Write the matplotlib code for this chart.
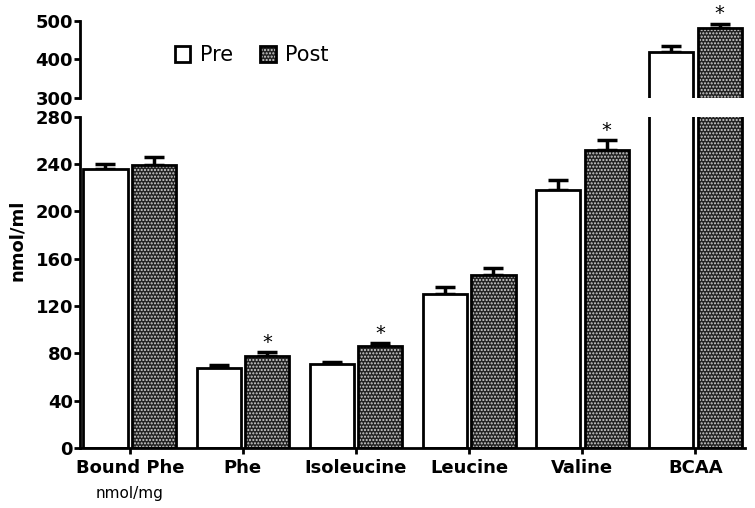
import numpy as np
import matplotlib
matplotlib.use('Agg')
import matplotlib.pyplot as plt
from matplotlib.patches import Patch

plt.rcParams['font.family'] = ['DejaVu Sans']
plt.rcParams['hatch.linewidth'] = 1.0

categories = ['Bound Phe', 'Phe', 'Isoleucine', 'Leucine', 'Valine', 'BCAA']
pre = [236, 68, 71, 130, 218, 420]
pre_err = [4, 2, 2, 6, 9, 15]
post = [239, 78, 86, 146, 252, 481]
post_err = [7, 3, 3, 6, 8, 12]
signif = [False, True, True, False, True, True]

x = np.arange(len(categories))
w = 0.39
off = 0.215
dark = '#222222'
dots = '#d2d2d2'

fig = plt.figure(figsize=(7.55, 5.08), dpi=100)
ax_top = fig.add_axes([0.106, 0.807, 0.881, 0.152])
ax = fig.add_axes([0.106, 0.118, 0.881, 0.652])


def draw(a):
    a.bar(x - off, pre, w, color='white', edgecolor='black', linewidth=2, zorder=2)
    a.bar(x + off, post, w, color=dark, edgecolor=dots, hatch='.....',
          linewidth=0, zorder=2)
    a.bar(x + off, post, w, color='none', edgecolor='black', linewidth=2, zorder=3)
    a.errorbar(x - off, pre, yerr=[np.zeros(len(pre)), pre_err], fmt='none',
               ecolor='black', elinewidth=2.5, capsize=7, capthick=2.5, zorder=1)
    a.errorbar(x + off, post, yerr=[np.zeros(len(post)), post_err], fmt='none',
               ecolor='black', elinewidth=2.5, capsize=7, capthick=2.5, zorder=1)


draw(ax)
draw(ax_top)

for a in (ax, ax_top):
    a.set_xlim(-0.44, 5.44)
    a.spines['top'].set_visible(False)
    a.spines['right'].set_visible(False)
    a.spines['left'].set_linewidth(2)
    a.tick_params(axis='y', width=2, length=4, labelsize=13, pad=1)

ax.set_ylim(0, 280)
ax.set_yticks(range(0, 281, 40))
ax.spines['bottom'].set_linewidth(2)
ax.set_xticks(x)
ax.set_xticklabels(categories, fontsize=13, fontweight='bold')
ax.tick_params(axis='x', width=2, length=4, pad=4)
for lab in ax.get_yticklabels():
    lab.set_fontweight('bold')

ax_top.set_ylim(300, 500)
ax_top.set_yticks([300, 400, 500])
ax_top.spines['bottom'].set_visible(False)
ax_top.set_xticks([])
for lab in ax_top.get_yticklabels():
    lab.set_fontweight('bold')

fig.text(0.022, 1 - 240 / 508, 'nmol/ml', rotation=90, ha='center', va='center',
         fontsize=13, fontweight='bold')

# significance stars
for i in range(len(categories)):
    if signif[i]:
        top = post[i] + post_err[i]
        a = ax_top if top > 300 else ax
        a.text(x[i] + off, top + (2 if a is ax_top else 0), '*', ha='center',
               va='bottom', fontsize=14, clip_on=False)

ax.text(x[0], -0.115, 'nmol/mg', transform=ax.get_xaxis_transform(), ha='center',
        va='top', fontsize=11)

h_pre = Patch(facecolor='white', edgecolor='black', linewidth=2)
h_post = (Patch(facecolor=dark, edgecolor=dots, hatch='.....', linewidth=0),
          Patch(facecolor='none', edgecolor='black', linewidth=2))
leg = ax_top.legend([h_pre, h_post], ['Pre', 'Post'], loc='upper left',
                    bbox_to_anchor=(0.13, 0.79), ncol=2, frameon=False, fontsize=15,
                    handlelength=0.75, handleheight=0.75, columnspacing=1.3,
                    handletextpad=0.45, borderaxespad=0)

fig.savefig('out.png', dpi=100)
